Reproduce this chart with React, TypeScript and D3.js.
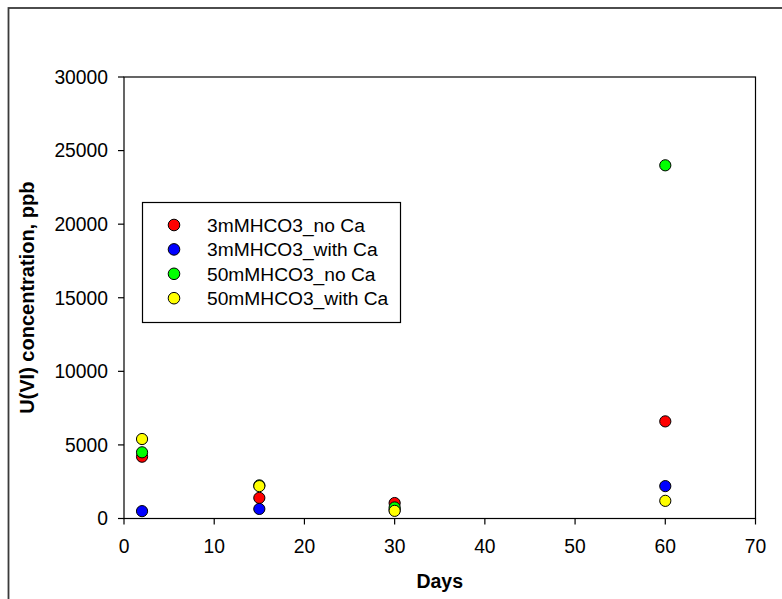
import React from "react";
import * as d3 from "d3";

const days = [2, 15, 30, 60];
const seriesNames = ["3mMHCO3_no Ca", "3mMHCO3_with Ca", "50mMHCO3_no Ca", "50mMHCO3_with Ca"];
const seriesColors = ["#ff0000", "#0000ff", "#00ff00", "#ffff00"];
const s3NoCa = [4200, 1400, 1050, 6600];
const s3WithCa = [500, 650, 600, 2200];
const s50NoCa = [4500, 2250, 750, 24000];
const s50WithCa = [5400, 2200, 520, 1200];
const seriesValues = [s3NoCa, s3WithCa, s50NoCa, s50WithCa];
const xTicks = [0, 10, 20, 30, 40, 50, 60, 70];
const yTicks = [0, 5000, 10000, 15000, 20000, 25000, 30000];

const W = 782;
const H = 599;
const left = 124;
const right = 755.5;
const top = 77;
const bottom = 518.5;
const font = "'Liberation Sans', Arial, sans-serif";

export default function App() {
  const x = d3.scaleLinear().domain([0, 70]).range([left, right]);
  const y = d3.scaleLinear().domain([0, 30000]).range([bottom, top]);
  return (
    <svg width={W} height={H} style={{ position: "absolute", left: 0, top: 0 }} fontFamily={font}>
      <rect x={0} y={0} width={W} height={H} fill="#fff" />
      <rect x={8.5} y={8} width={W + 20} height={H + 20} fill="none" stroke="#3a3a3a" strokeWidth={1.8} />
      <rect x={left} y={top} width={right - left} height={bottom - top} fill="none" stroke="#000" strokeWidth={1.2} />
      {yTicks.map((t) => (
        <g key={"y" + t}>
          <line x1={left - 6} x2={left} y1={y(t)} y2={y(t)} stroke="#000" strokeWidth={1.2} />
          <text x={108} y={y(t)} dy="0.35em" textAnchor="end" fontSize={19.3} fill="#000">
            {t}
          </text>
        </g>
      ))}
      {xTicks.map((t) => (
        <g key={"x" + t}>
          <line x1={x(t)} x2={x(t)} y1={bottom} y2={bottom + 6} stroke="#000" strokeWidth={1.2} />
          <text x={x(t)} y={553} textAnchor="middle" fontSize={19.3} fill="#000">
            {t}
          </text>
        </g>
      ))}
      <text x={(left + right) / 2} y={588} textAnchor="middle" fontSize={19.5} fontWeight="bold" fill="#000">
        Days
      </text>
      <text
        transform={`translate(34, ${(top + bottom) / 2}) rotate(-90)`}
        textAnchor="middle"
        fontSize={20}
        fontWeight="bold"
        fill="#000"
      >
        U(VI) concentration, ppb
      </text>
      {seriesValues.map((vals, si) => (
        <g key={"s" + si}>
          {vals.map((v, i) => (
            <circle key={i} cx={x(days[i])} cy={y(v)} r={5.6} fill={seriesColors[si]} stroke="#000" strokeWidth={1} />
          ))}
        </g>
      ))}
      <rect x={142.5} y={202.5} width={258} height={120} fill="#fff" stroke="#000" strokeWidth={1.2} />
      {seriesNames.map((n, i) => (
        <g key={"l" + i}>
          <circle cx={174} cy={225 + i * 24.4} r={5.8} fill={seriesColors[i]} stroke="#000" strokeWidth={1} />
          <text x={207} y={225 + i * 24.4} dy="0.35em" fontSize={19.2} fill="#000">
            {n}
          </text>
        </g>
      ))}
    </svg>
  );
}
